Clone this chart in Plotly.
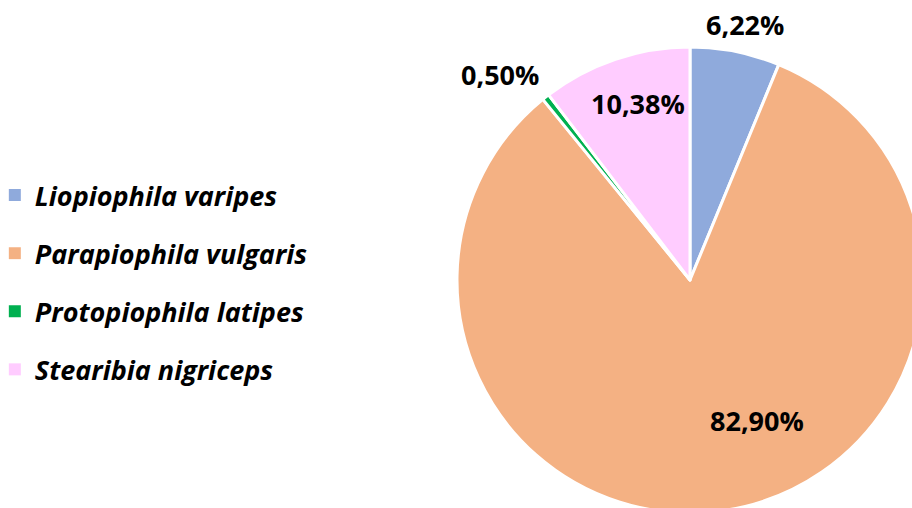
import plotly.graph_objects as go

species = ["Liopiophila varipes", "Parapiophila vulgaris", "Protopiophila latipes", "Stearibia nigriceps"]
shares = [6.22, 82.90, 0.50, 10.38]
colors = ["#8FAADC", "#F4B183", "#00B050", "#FFCCFF"]

W, H = 940, 532
cx, cy, r = 690, 280, 233
# label centres in pixels (layout only)
label_px = [(745, 25), (757, 420), (500, 75), (638, 103)]

fig = go.Figure()
fig.add_trace(go.Pie(
    labels=species, values=shares, sort=False, direction="clockwise", rotation=0,
    marker=dict(colors=colors, line=dict(color="white", width=3)),
    textinfo="none", showlegend=False, hoverinfo="label+percent",
    domain=dict(x=[(cx - r) / W, (cx + r) / W], y=[(H - cy - r) / H, (H - cy + r) / H]),
))
for name, col in zip(species, colors):
    fig.add_trace(go.Scatter(
        x=[None], y=[None], mode="markers", name=name, legendgroup=name,
        marker=dict(symbol="square", size=12, color=col),
    ))

total = sum(shares)
for v, (px, py) in zip(shares, label_px):
    fig.add_annotation(
        x=px / W, y=(H - py) / H, xref="paper", yref="paper", showarrow=False,
        text=f"{100 * v / total:.2f}".replace(".", ",") + "%",
        font=dict(family="Open Sans", size=27, color="black", weight="bold"),
        xanchor="center", yanchor="middle",
    )

fig.update_layout(
    width=W, height=H, margin=dict(l=0, r=0, t=0, b=0, autoexpand=False),
    paper_bgcolor="white", plot_bgcolor="white",
    xaxis=dict(visible=False), yaxis=dict(visible=False),
    legend=dict(x=-0.0055, xanchor="left", y=(H - 171) / H, yanchor="top",
                traceorder="grouped", tracegroupgap=20,
                font=dict(family="Open Sans", size=27, color="black", weight="bold", style="italic"),
                itemsizing="constant"),
)
fig.write_html("out.html", config={"displayModeBar": False},
               post_script="document.documentElement.style.overflow='hidden';document.body.style.overflow='hidden';document.body.style.margin='0';")
